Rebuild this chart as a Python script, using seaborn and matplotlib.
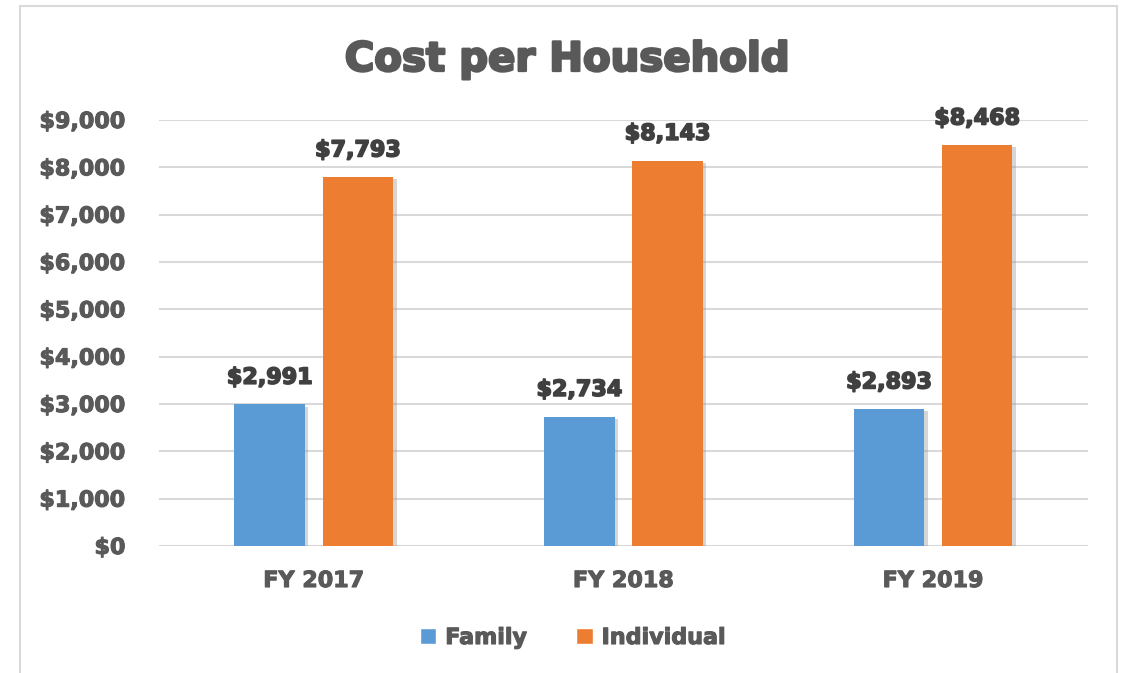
import matplotlib
matplotlib.use("Agg")
import matplotlib.pyplot as plt
import matplotlib.patheffects as pe
from matplotlib.patches import Rectangle
import seaborn as sns
import pandas as pd

years = ["FY 2017", "FY 2018", "FY 2019"]
family = [2991, 2734, 2893]
individual = [7793, 8143, 8468]
series_names = ["Family", "Individual"]
colors = ["#5B9BD5", "#ED7D31"]
yticks = [0, 1000, 2000, 3000, 4000, 5000, 6000, 7000, 8000, 9000]

df = pd.DataFrame({
    "year": years * 2,
    "type": [series_names[0]] * 3 + [series_names[1]] * 3,
    "cost": family + individual,
})

sns.set_theme(style="white")
plt.rcParams["font.family"] = ["DejaVu Sans"]

fig = plt.figure(figsize=(11.25, 6.73), dpi=100)
ax = fig.add_axes([0.1413, 0.1887, 0.8257, 0.633])

sns.barplot(data=df, x="year", y="cost", hue="type", palette=colors,
            width=0.57, gap=0.2, ax=ax, legend=True, saturation=1)

ax.set_xlim(-0.5, 2.5)
ax.set_ylim(0, 9000)
ax.set_yticks(yticks)
ax.set_yticklabels([f"${v:,.0f}" for v in yticks])
ax.yaxis.grid(True, color="#d9d9d9", linewidth=1.5)
ax.set_axisbelow(True)
for s in ax.spines.values():
    s.set_visible(False)
ax.set_xlabel("")
ax.set_ylabel("")
ax.tick_params(axis="y", length=0, pad=24, labelsize=16, labelcolor="#595959")
ax.tick_params(axis="x", length=0, pad=18, labelsize=16, labelcolor="#595959")
thick = [pe.withStroke(linewidth=0.8, foreground="#595959")]
for lbl in ax.get_yticklabels() + ax.get_xticklabels():
    lbl.set_fontweight("bold")
    lbl.set_path_effects(thick)

leg = ax.legend(loc="center", bbox_to_anchor=(0.509, 0.052), bbox_transform=fig.transFigure,
                ncol=2, frameon=False, handlelength=0.75, handleheight=0.75,
                handletextpad=0.4, columnspacing=2.2,
                prop={"size": 16, "weight": "bold"})
for t in leg.get_texts():
    t.set_color("#595959")
    t.set_path_effects(thick)

shadow = [pe.SimplePatchShadow(offset=(2.5, -1.5), shadow_rgbFace="#8c8c8c", alpha=0.35), pe.Normal()]
for cont in ax.containers:
    for p in cont:
        p.set_path_effects(shadow)
        p.set_linewidth(0)
    labels = ax.bar_label(cont, labels=[f"${v:,.0f}" for v in cont.datavalues],
                          padding=12, fontsize=16, fontweight="bold", color="#404040")
    for t in labels:
        t.set_path_effects([pe.withStroke(linewidth=1.2, foreground="#404040")])

fig.text(0.504, 0.911, "Cost per Household", ha="center", va="center",
         fontsize=29, fontweight="bold", color="#595959",
         path_effects=[pe.withStroke(linewidth=1.8, foreground="#595959")])

fig.add_artist(Rectangle((20 / 1125, -0.02), (1117 - 20) / 1125, 1 - 6 / 673 + 0.02,
                         transform=fig.transFigure, fill=False, edgecolor="#d9d9d9",
                         linewidth=1.5))

fig.savefig("out.png", dpi=100, facecolor="white")
